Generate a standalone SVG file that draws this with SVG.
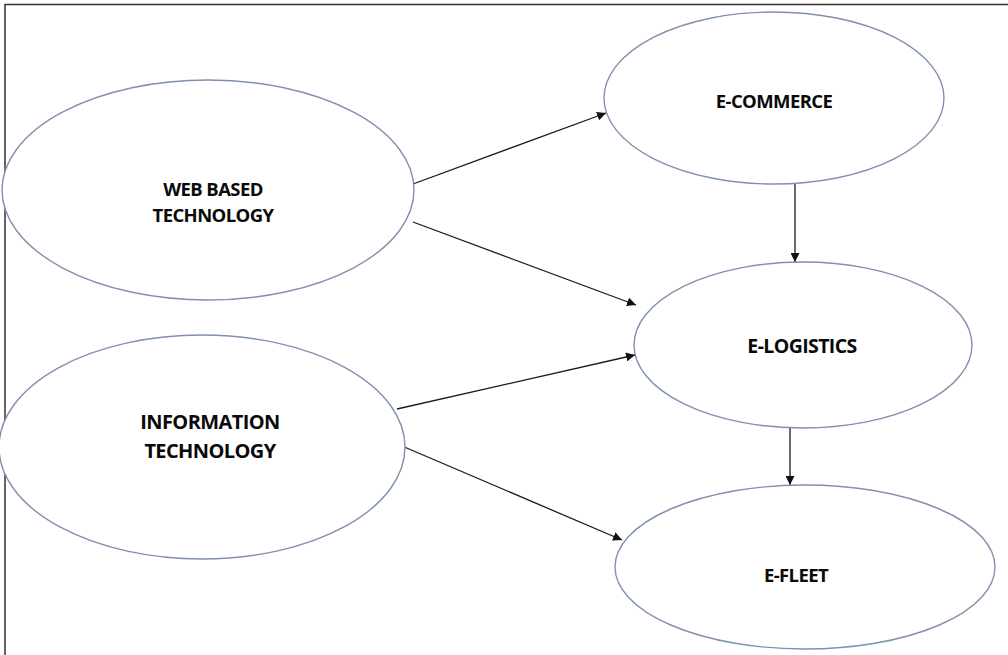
<svg xmlns="http://www.w3.org/2000/svg" width="1008" height="655" viewBox="0 0 1008 655">
  <style>
    .node ellipse { fill: #ffffff; stroke: #8090b0; stroke-width: 1.4; }
    .node text { font-family: "Open Sans", "Liberation Sans", sans-serif; font-weight: 700; fill: #0a0a0a; text-anchor: middle; letter-spacing: -0.6px; }
    .edges line { stroke: #1a1a1a; stroke-width: 1.3; marker-end: url(#arrow); }
    .frame { stroke: #333333; stroke-width: 1.5; fill: none; }
  </style>
  <defs>
    <marker id="arrow" viewBox="0 0 10 10" refX="10" refY="5" markerWidth="9" markerHeight="9" markerUnits="userSpaceOnUse" orient="auto">
      <path d="M0,0 L10,5 L0,10 z" fill="#111111"/>
    </marker>
  </defs>
  <rect width="1008" height="655" fill="#ffffff"/>
  <!-- outer frame: left and top edges only -->
  <path class="frame" d="M5,655 L5,4.5 L1008,4.5"/>

  <g class="edges">
    <line x1="413" y1="184" x2="606" y2="113"/>
    <line x1="413" y1="222" x2="636" y2="305"/>
    <line x1="397" y1="409" x2="635" y2="355"/>
    <line x1="402" y1="446" x2="622" y2="540"/>
    <line x1="795" y1="184" x2="795" y2="262"/>
    <line x1="790" y1="428" x2="790" y2="485"/>
  </g>

  <g id="web-based-technology" class="node">
    <ellipse cx="208" cy="190" rx="206" ry="110"/>
    <text x="213" y="196" font-size="18.5">WEB BASED</text>
    <text x="213" y="222" font-size="18.5">TECHNOLOGY</text>
  </g>
  <g id="information-technology" class="node">
    <ellipse cx="202" cy="447" rx="203" ry="112"/>
    <text x="210" y="429" font-size="20">INFORMATION</text>
    <text x="210" y="458" font-size="20">TECHNOLOGY</text>
  </g>
  <g id="e-commerce" class="node">
    <ellipse cx="774" cy="98" rx="170" ry="86"/>
    <text x="774" y="108" font-size="18.5">E-COMMERCE</text>
  </g>
  <g id="e-logistics" class="node">
    <ellipse cx="803" cy="345" rx="169" ry="83"/>
    <text x="802" y="353" font-size="19.5">E-LOGISTICS</text>
  </g>
  <g id="e-fleet" class="node">
    <ellipse cx="805" cy="567" rx="190" ry="82"/>
    <text x="796" y="582" font-size="18.5">E-FLEET</text>
  </g>
</svg>
